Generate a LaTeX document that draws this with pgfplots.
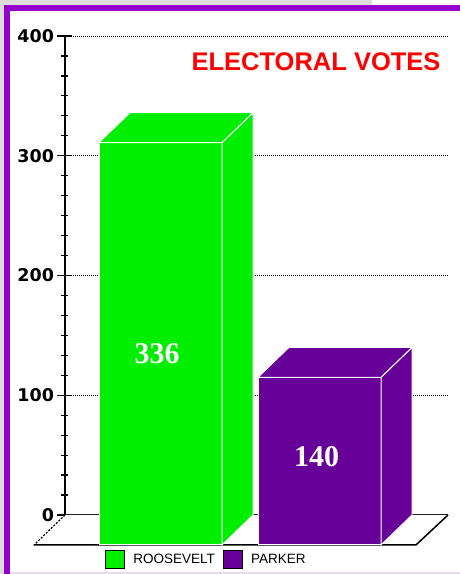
\documentclass[border=0pt]{standalone}
\usepackage{fontspec}
\usepackage{pgfplots}
\pgfplotsset{compat=1.18}
\setmainfont{Liberation Sans}
\newfontfamily\dejavu{DejaVu Sans}
\newfontfamily\serifnum{Liberation Serif}
\definecolor{bggray}{RGB}{220,220,220}
\definecolor{border}{RGB}{150,0,205}
\definecolor{lav}{RGB}{232,216,240}
\definecolor{roosgreen}{RGB}{0,238,0}
\definecolor{parkpurple}{RGB}{102,0,153}
\begin{document}
\begin{tikzpicture}[x=1pt,y=1pt]
% frame of the page
\fill[white] (0,0) rectangle (460,574);
\fill[bggray] (0,569) rectangle (372,574);
\fill[bggray] (0,0) rectangle (4,574);
\fill[border] (4,563) rectangle (460,569);
\fill[border] (4,0) rectangle (10,569);
\fill[lav] (10,0) rectangle (460,2);

\begin{axis}[
    at={(65pt,59pt)}, anchor=south west,
    scale only axis,
    width=383pt, height=479pt,
    xmin=0, xmax=383, ymin=0, ymax=400,
    clip=false,
    axis lines*=left,
    axis line style={black, line width=1.5pt},
    y axis line style={shorten <=-6pt},
    xtick=\empty,
    ytick={0,100,200,300,400},
    minor y tick num=5,
    tick align=center,
    major tick length=15pt,
    minor tick length=7pt,
    tick style={black, line width=1.2pt},
    ymajorgrids,
    grid style={black, line width=0.8pt, dash pattern=on 0.8pt off 1.2pt},
    /pgf/number format/assume math mode=true,
    yticklabel style={font=\dejavu\bfseries\fontsize{17.5}{18}\selectfont},
    title={ELECTORAL VOTES},
    title style={at={(0.6554,0.9333)}, anchor=center, text=red,
        font=\bfseries\fontsize{25.5}{26}\selectfont},
    legend style={at={(0.1044,-0.093)}, anchor=west, draw=none, fill=none,
        legend columns=-1, inner sep=0pt,
        nodes={inner sep=0pt, font=\fontsize{13.5}{14}\selectfont},
        /tikz/every odd column/.style={column sep=8pt},
        /tikz/every even column/.style={column sep=8pt}},
    legend image code/.code={\draw[#1, draw=black, line width=1.2pt] (0pt,-9pt) rectangle (19pt,9.5pt);},
]
% floor
\addplot[fill=white, draw=none, forget plot] coordinates {(0,0) (383,0) (351,-25) (-31,-25)} -- cycle;
\addplot[black, line width=1.5pt, forget plot] coordinates {(-31,-25) (351,-25) (383,0)};
\addplot[black, line width=1.2pt, dash pattern=on 2pt off 1.5pt, forget plot] coordinates {(0,0) (-31,-25)};

% Roosevelt 336
\addplot[fill=roosgreen, draw=white, line width=1pt] coordinates {(34,-25) (157,-25) (157,311) (34,311)} -- cycle;
\addlegendentry{ROOSEVELT}
\addplot[fill=roosgreen, draw=white, line width=1pt, forget plot] coordinates {(157,-25) (188,0) (188,336) (157,311)} -- cycle;
\addplot[fill=roosgreen, draw=white, line width=1pt, forget plot] coordinates {(34,311) (65,336) (188,336) (157,311)} -- cycle;

% Parker 140
\addplot[fill=parkpurple, draw=white, line width=1pt] coordinates {(193,-25) (316,-25) (316,115) (193,115)} -- cycle;
\addlegendentry{PARKER}
\addplot[fill=parkpurple, draw=white, line width=1pt, forget plot] coordinates {(316,-25) (347,0) (347,140) (316,115)} -- cycle;
\addplot[fill=parkpurple, draw=white, line width=1pt, forget plot] coordinates {(193,115) (224,140) (347,140) (316,115)} -- cycle;

\node[text=white, font=\serifnum\bfseries\fontsize{30}{30}\selectfont] at (axis cs:92,134.9) {336};
\node[text=white, font=\serifnum\bfseries\fontsize{30}{30}\selectfont] at (axis cs:251.5,48.4) {140};
\end{axis}
\end{tikzpicture}
\end{document}
